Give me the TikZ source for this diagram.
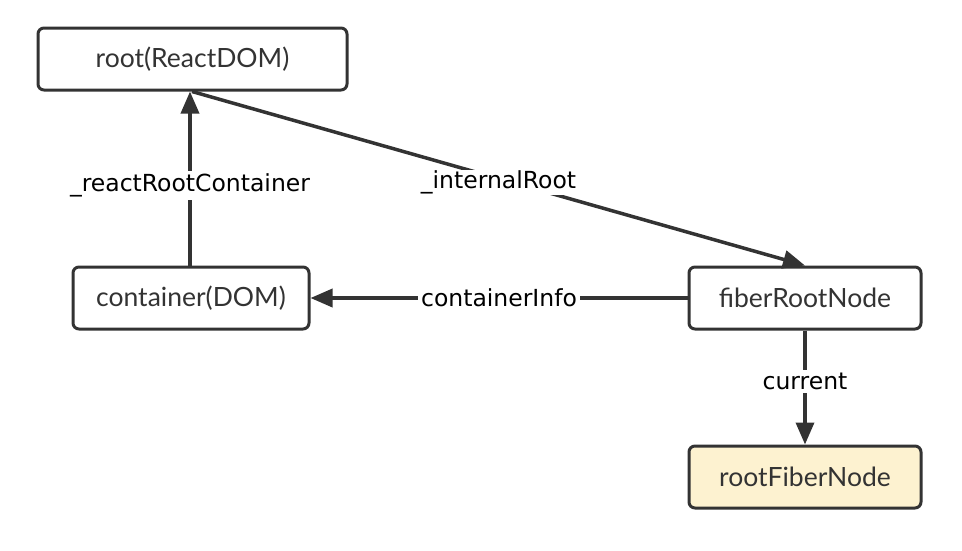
\documentclass[tikz,border=0pt]{standalone}
\usepackage{fontspec}
\setmainfont{Lato}
\newfontfamily\labelfont{DejaVu Sans}
\usetikzlibrary{arrows.meta}

\definecolor{linegray}{HTML}{333333}
\definecolor{paleyellow}{HTML}{FDF2D0}

\tikzset{
  box/.style={draw=linegray, line width=3pt, rounded corners=6pt, fill=white,
    minimum width=232pt, minimum height=62pt, font=\fontsize{26.5}{30}\selectfont, text=linegray},
  link/.style={draw=linegray, line width=3.5pt, -{Triangle[length=22pt,width=18pt]}},
  edgelabel/.style={fill=white, inner sep=3pt, font=\labelfont\fontsize{23.5}{26}\selectfont, text=black}
}

\begin{document}
\begin{tikzpicture}[x=1pt, y=-1pt]
    \useasboundingbox (0,0) rectangle (962,550);

    % boxes
    \node[box, minimum width=309pt] (root) at (192.5,59) {root(ReactDOM)};
    \node[box, minimum width=236pt] (container) at (191,298) {container(DOM)};
    \node[box] (fiberroot) at (805,298) {fiberRootNode};
    \node[box, fill=paleyellow] (rootfiber) at (805,477) {rootFiberNode};

    % connectors
    \draw[link] (container.north -| 190,0) -- (root.south -| 190,0)
        node[pos=0.46, edgelabel] {\_reactRootContainer};
    \draw[link] (root.south -| 192,0) -- (fiberroot.north)
        node[pos=0.5, edgelabel, inner sep=1pt, yshift=-4pt] {\_internalRoot};
    \draw[link] (fiberroot.west) -- (container.east)
        node[midway, edgelabel] {containerInfo};
    \draw[link] (fiberroot.south) -- (rootfiber.north)
        node[pos=0.45, edgelabel] {current};
\end{tikzpicture}
\end{document}
